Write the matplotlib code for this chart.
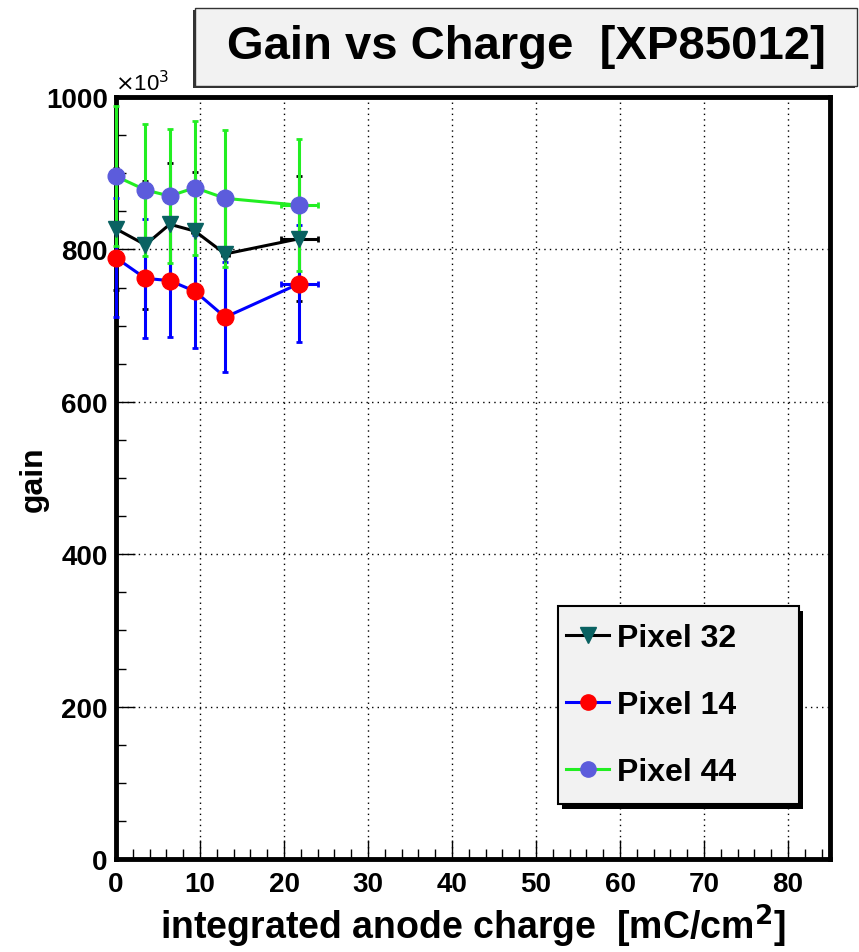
import matplotlib.pyplot as plt
from matplotlib.patches import Rectangle
from matplotlib.lines import Line2D
from matplotlib.ticker import MultipleLocator

# Data (gain in units of 10^3)
charge = [0.0, 3.5, 6.4, 9.4, 13.0, 21.8]
charge_err = [0.0, 0.0, 0.0, 0.3, 0.4, 2.2]

gain_px32 = [827, 806, 833, 824, 794, 814]
err_px32 = [80, 84, 80, 78, 76, 82]

gain_px14 = [789, 762, 759, 745, 711, 755]
err_px14 = [78, 78, 74, 74, 72, 77]

gain_px44 = [896, 878, 870, 881, 867, 858]
err_px44 = [92, 87, 88, 88, 90, 87]

plt.rcParams["font.family"] = ["Liberation Sans", "DejaVu Sans"]

fig = plt.figure(figsize=(8.59, 9.53), dpi=100)
ax = fig.add_axes([116 / 859, 1 - 860 / 953, 714 / 859, 762 / 953])

series = [
    ("Pixel 32", gain_px32, err_px32, "black", "#0a6262", "v"),
    ("Pixel 14", gain_px14, err_px14, "#0000ff", "#ff0000", "o"),
    ("Pixel 44", gain_px44, err_px44, "#22ee22", "#5c5cdc", "o"),
]
handles = []
for label, g, e, lc, mc, mk in series:
    ax.errorbar(charge, g, yerr=e, xerr=charge_err, color=lc, lw=2.2,
                elinewidth=2.2, capsize=2.5, capthick=2, marker=mk, ms=12,
                mfc=mc, mec=mc, clip_on=False, zorder=3)
    handles.append(Line2D([], [], color=lc, lw=2.2, marker=mk, ms=11,
                          mfc=mc, mec=mc, label=label))

ax.set_xlim(0, 85)
ax.set_ylim(0, 1000)
ax.xaxis.set_major_locator(MultipleLocator(10))
ax.xaxis.set_minor_locator(MultipleLocator(2))
ax.yaxis.set_major_locator(MultipleLocator(200))
ax.yaxis.set_minor_locator(MultipleLocator(50))
ax.tick_params(which="both", direction="in", top=False, right=False,
               labelsize=20, pad=6)
ax.tick_params(axis="x", which="both", pad=9)
ax.tick_params(which="major", length=14, width=1)
ax.tick_params(which="minor", length=7, width=1)
for t in ax.get_xticklabels() + ax.get_yticklabels():
    t.set_fontweight("bold")
ax.grid(True, which="major", linestyle=(0, (1, 3)), color="black", lw=1)
for s in ax.spines.values():
    s.set_linewidth(3.5)

ax.set_xlabel("integrated anode charge  [mC/cm$^\\mathbf{2}$]",
              fontsize=27, fontweight="bold", labelpad=3)
ax.set_ylabel("gain", fontsize=23, fontweight="bold", labelpad=-2)
ax.text(-0.002, 1.003, "$\\times$10$^3$", transform=ax.transAxes, fontsize=16,
        ha="left", va="bottom")

# title box with small shadow
fig.patches.append(Rectangle((193 / 859, 1 - 89 / 953), 662 / 859, 78 / 953,
                             transform=fig.transFigure, facecolor="#333333",
                             edgecolor="none", zorder=1))
fig.patches.append(Rectangle((195 / 859, 1 - 87 / 953), 662 / 859, 78 / 953,
                             transform=fig.transFigure, facecolor="#f2f2f2",
                             edgecolor="#333333", lw=1, zorder=2))
fig.text(526 / 859, 1 - 47 / 953, "Gain vs Charge  [XP85012]", fontsize=34,
         fontweight="bold", ha="center", va="center", zorder=3)

# legend box (ROOT style, shadow right/bottom)
lx, ly, lw_, lh = 0.619, 0.072, 0.337, 0.26
ax.add_patch(Rectangle((lx + 0.006, ly - 0.006), lw_, lh, transform=ax.transAxes,
                       facecolor="black", edgecolor="none", zorder=8, clip_on=False))
ax.add_patch(Rectangle((lx, ly), lw_, lh, transform=ax.transAxes,
                       facecolor="#f2f2f2", edgecolor="black", lw=1.5, zorder=9,
                       clip_on=False))
leg = ax.legend(handles=handles, loc="center left",
                bbox_to_anchor=(lx, ly, lw_, lh), borderaxespad=0,
                frameon=False, prop={"weight": "bold", "size": 23},
                labelspacing=1.15, handlelength=1.35, borderpad=0.25,
                handletextpad=0.25)
leg.set_zorder(10)

fig.savefig("out.png", dpi=100)
